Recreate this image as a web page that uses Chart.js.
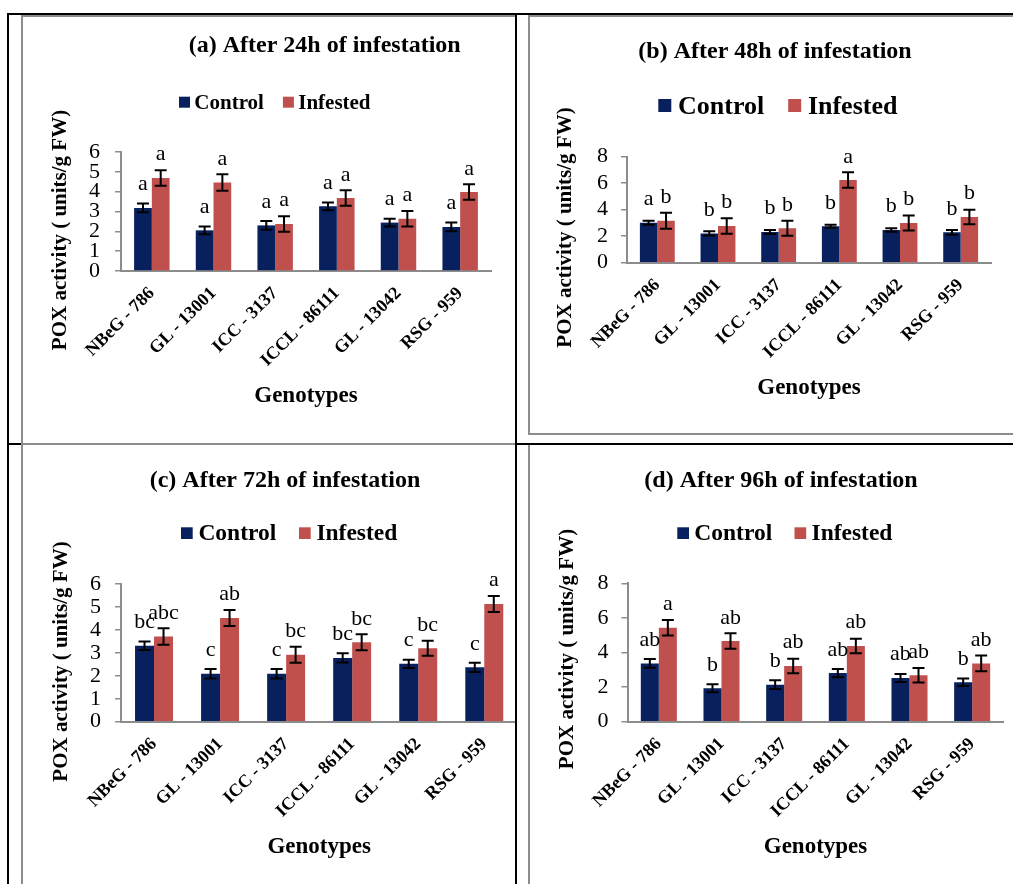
<!DOCTYPE html>
<html>
<head>
<meta charset="utf-8">
<title>POX activity</title>
<script src="https://cdn.jsdelivr.net/npm/chart.js@4.4.1/dist/chart.umd.min.js"></script>
<style>
  html, body { margin: 0; padding: 0; background: #fff; }
  body { position: relative; width: 1013px; height: 884px; overflow: hidden; font-family: "Liberation Serif", "Times New Roman", serif; }
  .cell { position: absolute; overflow: hidden; }
  .cell canvas { position: absolute; left: 0; top: 0; }
  .rule { position: absolute; background: #000; z-index: 5; }
  .frame { position: absolute; background: #8c8c8c; z-index: 6; }
</style>
</head>
<body>
<div class="cell" style="left:22px;top:16px;width:493px;height:427px"><canvas id="c24" width="494" height="427"></canvas></div>
<div class="cell" style="left:529px;top:16px;width:484px;height:418px"><canvas id="c48" width="484" height="418"></canvas></div>
<div class="cell" style="left:22px;top:445px;width:493px;height:439px"><canvas id="c72" width="510" height="439"></canvas></div>
<div class="cell" style="left:529px;top:445px;width:484px;height:439px"><canvas id="c96" width="484" height="439"></canvas></div>

<!-- table rules -->
<div class="rule" style="left:7px;top:13px;width:1006px;height:2px"></div>
<div class="rule" style="left:7px;top:443px;width:1006px;height:2px"></div>
<div class="rule" style="left:7px;top:13px;width:2px;height:871px"></div>
<div class="rule" style="left:515px;top:13px;width:2px;height:871px"></div>
<!-- chart frames -->
<div class="frame" style="left:21px;top:15px;width:2px;height:869px"></div>
<div class="frame" style="left:21px;top:15px;width:494px;height:1.5px"></div>
<div class="frame" style="left:21px;top:442.5px;width:494px;height:2px"></div>
<div class="frame" style="left:528px;top:15px;width:2px;height:420px"></div>
<div class="frame" style="left:528px;top:15px;width:485px;height:1.5px"></div>
<div class="frame" style="left:528px;top:433px;width:485px;height:2px"></div>
<div class="frame" style="left:528px;top:445px;width:2px;height:439px"></div>

<script>
// ---- data ----
const genotypes = ['NBeG - 786', 'GL - 13001', 'ICC - 3137', 'ICCL - 86111', 'GL - 13042', 'RSG - 959'];
const seriesNames = ['Control', 'Infested'];

// 24 h
const control24 = [3.18, 2.05, 2.30, 3.26, 2.44, 2.22];
const control24Err = [0.22, 0.20, 0.22, 0.20, 0.20, 0.22];
const infested24 = [4.69, 4.46, 2.37, 3.68, 2.64, 3.98];
const infested24Err = [0.39, 0.42, 0.39, 0.39, 0.39, 0.39];
const control24Letters = ['a', 'a', 'a', 'a', 'a', 'a'];
const infested24Letters = ['a', 'a', 'a', 'a', 'a', 'a'];

// 48 h
const control48 = [3.02, 2.21, 2.32, 2.75, 2.47, 2.29];
const control48Err = [0.15, 0.16, 0.15, 0.12, 0.13, 0.18];
const infested48 = [3.17, 2.77, 2.60, 6.24, 3.00, 3.45];
const infested48Err = [0.60, 0.58, 0.57, 0.58, 0.57, 0.55];
const control48Letters = ['a', 'b', 'b', 'b', 'b', 'b'];
const infested48Letters = ['b', 'b', 'b', 'a', 'b', 'b'];

// 72 h
const control72 = [3.31, 2.09, 2.09, 2.78, 2.52, 2.37];
const control72Err = [0.19, 0.21, 0.21, 0.20, 0.18, 0.20];
const infested72 = [3.71, 4.52, 2.92, 3.46, 3.20, 5.13];
const infested72Err = [0.36, 0.35, 0.35, 0.35, 0.33, 0.35];
const control72Letters = ['bc', 'c', 'c', 'bc', 'c', 'c'];
const infested72Letters = ['abc', 'ab', 'bc', 'bc', 'bc', 'a'];

// 96 h
const control96 = [3.37, 1.93, 2.14, 2.81, 2.53, 2.28];
const control96Err = [0.25, 0.23, 0.25, 0.24, 0.23, 0.21];
const infested96 = [5.43, 4.66, 3.22, 4.38, 2.68, 3.37];
const infested96Err = [0.45, 0.45, 0.42, 0.42, 0.42, 0.45];
const control96Letters = ['ab', 'b', 'b', 'ab', 'ab', 'b'];
const infested96Letters = ['a', 'ab', 'ab', 'ab', 'ab', 'ab'];

const panelTitles = ['(a) After 24h of infestation', '(b) After 48h of infestation',
                     '(c) After 72h of infestation', '(d) After 96h of infestation'];
const yAxisTitle = 'POX activity ( units/g FW)';
const xAxisTitle = 'Genotypes';
const yMax = [6, 8, 6, 8];
const yStep = [1, 2, 1, 2];

// ---- styling ----
const CONTROL_COLOR = '#08205e';
const INFESTED_COLOR = '#c0504d';
const AXIS_COLOR = '#8c8c8c';
const SERIF = '"Liberation Serif", "Times New Roman", serif';

// Panel geometry in canvas pixels
const layouts = [
  { id: 'c24', plot: { l: 99, r: 469, t: 136, b: 255 }, xPad: 11.5, yPad: 15,
    title: { x: 302.7, y: 35.7, size: 24 },
    legend: { x: 157, y: 93.3, size: 21, box: 11, boxTop: 80.7, gap: 4.3, spacing: 19 },
    yTitle: { x: 44, y: 214, size: 21 } },
  { id: 'c48', plot: { l: 98, r: 462, t: 140.7, b: 246.7 }, xPad: 10.9, yPad: 13,
    title: { x: 246, y: 42.3, size: 24 },
    legend: { x: 129.3, y: 98, size: 26, box: 13, boxTop: 83, gap: 6.7, spacing: 24 },
    yTitle: { x: 41.7, y: 211.5, size: 21 } },
  { id: 'c72', plot: { l: 99, r: 495.3, t: 139, b: 276.7 }, xPad: 10.6, yPad: 14,
    title: { x: 263, y: 41.7, size: 24 },
    legend: { x: 159, y: 95, size: 23.5, box: 11.7, boxTop: 82.3, gap: 5.7, spacing: 22.7 },
    yTitle: { x: 44.7, y: 216.5, size: 21 } },
  { id: 'c96', plot: { l: 98.5, r: 474.5, t: 138.3, b: 276.7 }, xPad: 10.6, yPad: 13,
    title: { x: 252, y: 41.7, size: 24 },
    legend: { x: 148.3, y: 95, size: 23.5, box: 11.7, boxTop: 82.3, gap: 5.3, spacing: 22.3 },
    yTitle: { x: 44.3, y: 204, size: 21 } }
];

const Y_AXIS_W = 40;
const X_AXIS_H = 150;

// Error bars, significance letters, panel title, legend and y-axis title
const panelDecor = {
  id: 'panelDecor',
  afterDatasetsDraw(chart, args, opts) {
    const ctx = chart.ctx;
    const yScale = chart.scales.y;
    ctx.save();
    chart.data.datasets.forEach((ds, i) => {
      const meta = chart.getDatasetMeta(i);
      meta.data.forEach((bar, j) => {
        const v = ds.data[j], e = ds.errors[j];
        const top = yScale.getPixelForValue(v + e);
        const bot = yScale.getPixelForValue(v - e);
        const cap = 6;
        ctx.strokeStyle = '#000';
        ctx.lineWidth = 2;
        ctx.beginPath();
        ctx.moveTo(bar.x, top); ctx.lineTo(bar.x, bot);
        ctx.moveTo(bar.x - cap, top); ctx.lineTo(bar.x + cap, top);
        ctx.moveTo(bar.x - cap, bot); ctx.lineTo(bar.x + cap, bot);
        ctx.stroke();
        ctx.fillStyle = '#000';
        ctx.font = '22px ' + SERIF;
        ctx.textAlign = 'center';
        ctx.textBaseline = 'alphabetic';
        ctx.fillText(ds.letters[j], bar.x, bar.y - 17.5);
      });
    });
    ctx.restore();
  },
  afterDraw(chart, args, opts) {
    const ctx = chart.ctx;
    const L = opts.layout;
    ctx.save();
    ctx.fillStyle = '#000';
    ctx.textBaseline = 'alphabetic';

    // panel title
    ctx.font = 'bold ' + L.title.size + 'px ' + SERIF;
    ctx.textAlign = 'center';
    ctx.fillText(opts.title, L.title.x, L.title.y);

    // legend
    const lg = L.legend;
    ctx.font = 'bold ' + lg.size + 'px ' + SERIF;
    ctx.textAlign = 'left';
    let x = lg.x;
    chart.data.datasets.forEach(ds => {
      ctx.fillStyle = ds.backgroundColor;
      ctx.fillRect(x, lg.boxTop, lg.box, lg.box);
      x += lg.box + lg.gap;
      ctx.fillStyle = '#000';
      ctx.fillText(ds.label, x, lg.y);
      x += ctx.measureText(ds.label).width + lg.spacing;
    });

    // y-axis title
    ctx.font = 'bold ' + L.yTitle.size + 'px ' + SERIF;
    ctx.translate(L.yTitle.x, L.yTitle.y);
    ctx.rotate(-Math.PI / 2);
    ctx.textAlign = 'center';
    ctx.fillText(opts.yTitle, 0, 0);
    ctx.restore();
  }
};

function buildPanel(k, control, controlErr, infested, infestedErr, controlLetters, infestedLetters) {
  const L = layouts[k];
  const canvas = document.getElementById(L.id);
  const W = canvas.width, H = canvas.height;
  return new Chart(canvas, {
    type: 'bar',
    data: {
      labels: genotypes,
      datasets: [
        { label: seriesNames[0], data: control, errors: controlErr, letters: controlLetters,
          backgroundColor: CONTROL_COLOR, borderWidth: 0 },
        { label: seriesNames[1], data: infested, errors: infestedErr, letters: infestedLetters,
          backgroundColor: INFESTED_COLOR, borderWidth: 0 }
      ]
    },
    options: {
      responsive: false,
      animation: false,
      devicePixelRatio: 1,
      datasets: { bar: { categoryPercentage: 0.575, barPercentage: 1.0 } },
      layout: {
        padding: {
          left: L.plot.l - Y_AXIS_W,
          right: W - L.plot.r,
          top: L.plot.t,
          bottom: H - L.plot.b - X_AXIS_H
        }
      },
      scales: {
        x: {
          grid: { display: false, drawTicks: false },
          border: { display: true, color: AXIS_COLOR, width: 2 },
          ticks: {
            color: '#000', minRotation: 45, maxRotation: 45, autoSkip: false, padding: 12,
            font: { family: SERIF, size: 18, weight: 'bold' }
          },
          title: {
            display: true, text: xAxisTitle, color: '#000',
            font: { family: SERIF, size: 23, weight: 'bold' },
            padding: { top: 0, bottom: L.xPad }
          },
          afterFit(scale) { scale.height = X_AXIS_H; }
        },
        y: {
          min: 0, max: yMax[k],
          grid: { display: true, drawOnChartArea: false, drawTicks: true, tickLength: 6, color: AXIS_COLOR, lineWidth: 1.5 },
          border: { display: true, color: AXIS_COLOR, width: 2 },
          ticks: {
            stepSize: yStep[k], color: '#000', padding: L.yPad, autoSkip: false,
            font: { family: SERIF, size: 22 }
          },
          afterFit(scale) { scale.width = Y_AXIS_W; }
        }
      },
      plugins: {
        legend: { display: false },
        title: { display: false },
        tooltip: { enabled: false },
        panelDecor: { layout: L, title: panelTitles[k], yTitle: yAxisTitle }
      }
    },
    plugins: [panelDecor]
  });
}

buildPanel(0, control24, control24Err, infested24, infested24Err, control24Letters, infested24Letters);
buildPanel(1, control48, control48Err, infested48, infested48Err, control48Letters, infested48Letters);
buildPanel(2, control72, control72Err, infested72, infested72Err, control72Letters, infested72Letters);
buildPanel(3, control96, control96Err, infested96, infested96Err, control96Letters, infested96Letters);
</script>
</body>
</html>
